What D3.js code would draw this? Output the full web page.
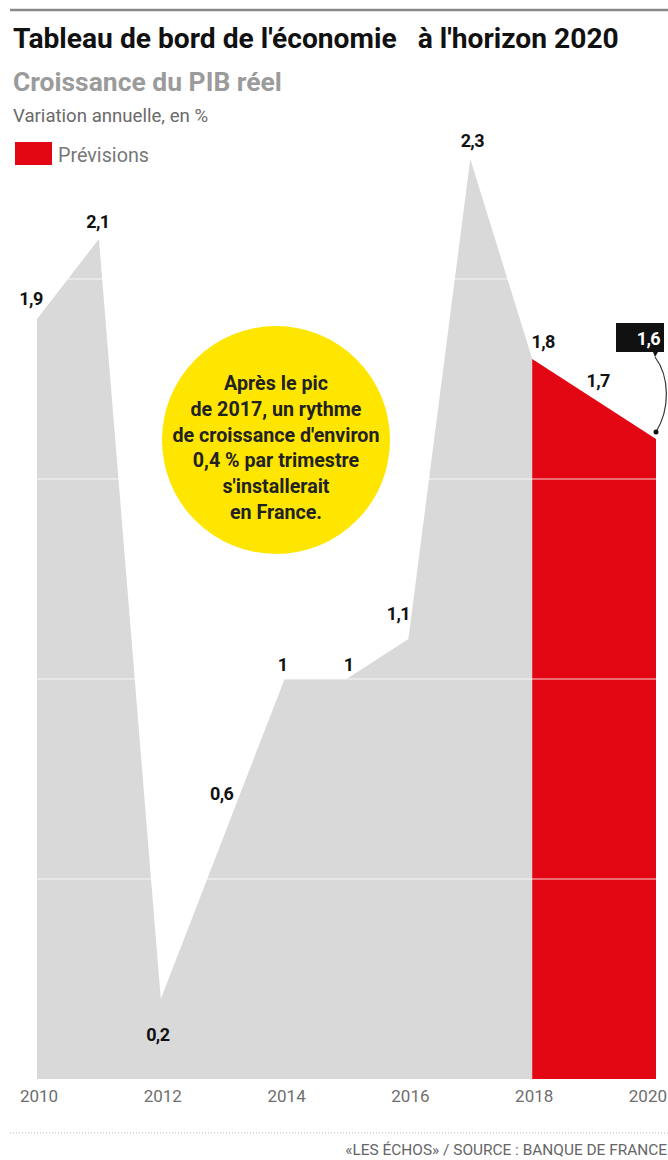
<!DOCTYPE html>
<html>
<head>
<meta charset="utf-8">
<script src="https://cdn.jsdelivr.net/npm/d3@7"></script>
<style>
  html, body { margin: 0; padding: 0; background: #fff; }
  svg { display: block; }
  text { font-family: Roboto, "Liberation Sans", sans-serif; }
</style>
</head>
<body>
<svg id="chart" width="668" height="1160"></svg>
<script>
// ---------------- data ----------------
const histYears = [2010, 2011, 2012, 2013, 2014, 2015, 2016, 2017, 2018];
const histValues = [1.9, 2.1, 0.2, 0.6, 1.0, 1.0, 1.1, 2.3, 1.8];
const fcYears = [2018, 2019, 2020];
const fcValues = [1.8, 1.7, 1.6];
const tickYears = [2010, 2012, 2014, 2016, 2018, 2020];
const gridValues = [0.5, 1, 1.5, 2];
const bubbleLines = ["Après le pic", "de 2017, un rythme", "de croissance d'environ",
                     "0,4 % par trimestre", "s'installerait", "en France."];
const fmt = v => String(v).replace(".", ",");

// ---------------- layout ----------------
const svg = d3.select("#chart");
const x = d3.scaleLinear().domain([2010, 2020]).range([37, 656]);
const y = d3.scaleLinear().domain([0, 2.3]).range([1079, 159]);

function fit(sel, w) {
  const n = sel.node();
  const fs = parseFloat(sel.attr("font-size"));
  const cw = n.getComputedTextLength();
  if (cw > 0) sel.attr("font-size", (fs * w / cw).toFixed(2));
  return sel;
}

// top rule
svg.append("line").attr("x1", 10).attr("x2", 668).attr("y1", 10).attr("y2", 10)
  .attr("stroke", "#8a8a8a").attr("stroke-width", 2.5);

// titles
fit(svg.append("text").attr("x", 13).attr("y", 48).attr("font-size", 24)
  .attr("font-weight", 700).attr("fill", "#111").style("white-space", "pre")
  .text("Tableau de bord de l'économie   à l'horizon 2020"), 606);
fit(svg.append("text").attr("x", 13).attr("y", 91).attr("font-size", 20)
  .attr("font-weight", 700).attr("fill", "#9b9b9b")
  .text("Croissance du PIB réel"), 269);
fit(svg.append("text").attr("x", 13).attr("y", 122).attr("font-size", 14)
  .attr("fill", "#6a6a6a").text("Variation annuelle, en %"), 195);

// legend
svg.append("rect").attr("x", 15).attr("y", 142).attr("width", 37).attr("height", 23)
  .attr("fill", "#e30613");
fit(svg.append("text").attr("x", 58).attr("y", 162).attr("font-size", 16)
  .attr("fill", "#777").text("Prévisions"), 91);

// areas
const area = d3.area().x(d => x(d.year)).y0(y(0)).y1(d => y(d.value));
const hist = histYears.map((yr, i) => ({ year: yr, value: histValues[i] }));
const fc = fcYears.map((yr, i) => ({ year: yr, value: fcValues[i] }));

svg.append("path").datum(hist).attr("d", area).attr("fill", "#d9d9d9");
svg.append("path").datum(fc).attr("d", area).attr("fill", "#e30613");

// gridlines (light lines over the fills)
svg.append("g").selectAll("line").data(gridValues).join("line")
  .attr("x1", x(2010)).attr("x2", x(2020))
  .attr("y1", d => y(d)).attr("y2", d => y(d))
  .attr("stroke", "#fff").attr("stroke-opacity", 0.55).attr("stroke-width", 1.5);

// value labels
const labelOffset = {
  2010: [-6, -14], 2011: [-1, -11], 2012: [-3, 42], 2013: [-1, -39],
  2014: [-2, -8], 2015: [2, -8], 2016: [-10, -19], 2017: [2, -12],
  2018: [11, -11], 2019: [4, -12]
};
const labelData = hist.concat(fc.slice(1, 2));
svg.append("g").selectAll("text").data(labelData).join("text")
  .attr("x", d => x(d.year) + labelOffset[d.year][0])
  .attr("y", d => y(d.value) + labelOffset[d.year][1])
  .attr("text-anchor", "middle").attr("font-size", 18).attr("font-weight", 700)
  .attr("fill", "#111").attr("letter-spacing", -0.6)
  .text(d => fmt(d.value));

// 2020 highlighted label
const last = fc[fc.length - 1];
const px = x(last.year), py = y(last.value);
const bx1 = px - 40, bx2 = px + 8, by1 = py - 116, by2 = py - 87;
svg.append("path")
  .attr("d", `M${bx1},${by1}H${bx2}V${by2}H${px + 2}L${px - 1},${by2 + 5}L${px - 3},${by2}H${bx1}Z`)
  .attr("fill", "#111");
svg.append("text").attr("x", bx2 - 4).attr("y", by2 - 7).attr("text-anchor", "end")
  .attr("font-size", 18).attr("font-weight", 700).attr("fill", "#fff")
  .attr("letter-spacing", -0.6).text(fmt(last.value));
svg.append("path")
  .attr("d", `M${px - 1},${by2 + 5} C${px + 14},${by2 + 25} ${px + 14},${py - 30} ${px},${py - 7}`)
  .attr("fill", "none").attr("stroke", "#333").attr("stroke-width", 1.2);
svg.append("circle").attr("cx", px).attr("cy", py - 7).attr("r", 2.5).attr("fill", "#111");

// yellow bubble
svg.append("circle").attr("cx", 276).attr("cy", 440).attr("r", 114).attr("fill", "#ffe600");
const bubble = svg.append("g").selectAll("text").data(bubbleLines).join("text")
  .attr("x", 276).attr("y", (d, i) => 390 + i * 25.8)
  .attr("text-anchor", "middle").attr("font-size", 15).attr("font-weight", 700)
  .attr("fill", "#222").text(d => d);
fit(d3.select(bubble.nodes()[2]), 207);
bubble.attr("font-size", d3.select(bubble.nodes()[2]).attr("font-size"));

// x axis labels
const xLabels = svg.append("g").selectAll("text").data(tickYears).join("text")
  .attr("x", (d, i) => i === tickYears.length - 1 ? 667 : x(d) + 2).attr("y", 1102)
  .attr("text-anchor", (d, i) => i === tickYears.length - 1 ? "end" : "middle")
  .attr("font-size", 17).attr("fill", "#6e6e6e")
  .text(d => d);

// footer
svg.append("line").attr("x1", 10).attr("x2", 668).attr("y1", 1133).attr("y2", 1133)
  .attr("stroke", "#bbb").attr("stroke-width", 1).attr("stroke-dasharray", "1.2,1.8");
fit(svg.append("text").attr("x", 667).attr("y", 1155).attr("text-anchor", "end")
  .attr("font-size", 13).attr("fill", "#666")
  .text("«LES ÉCHOS» / SOURCE : BANQUE DE FRANCE"), 322);
</script>
</body>
</html>
